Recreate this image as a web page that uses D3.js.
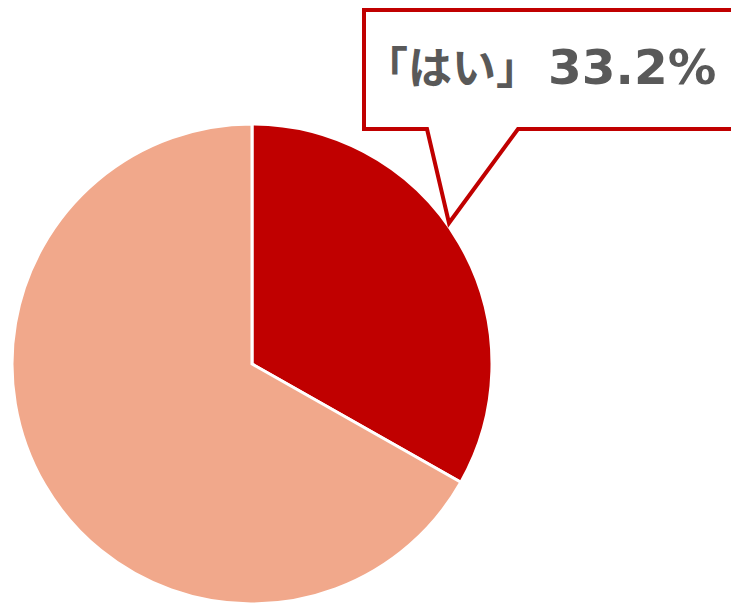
<!DOCTYPE html>
<html>
<head>
<meta charset="utf-8">
<script src="https://cdn.jsdelivr.net/npm/d3@7"></script>
<style>
  html, body { margin: 0; padding: 0; background: #fff; }
  svg { display: block; }
</style>
</head>
<body>
<svg id="chart" width="731" height="604"></svg>
<script>
const categories = ["はい", "いいえ"];
const values = [33.2, 66.8];
const colors = ["#C00000", "#F1A88B"];

(function () {
const svg = d3.select("#chart");
const cx = 252, cy = 364, radius = 240;

const data = categories.map((c, i) => ({ label: c, value: values[i] }));
const pie = d3.pie().sort(null).value(d => d.value);
const arc = d3.arc().innerRadius(0).outerRadius(radius);

const g = svg.append("g").attr("transform", `translate(${cx},${cy})`);
g.selectAll("path")
  .data(pie(data))
  .join("path")
  .attr("d", arc)
  .attr("fill", (d, i) => colors[i])
  .attr("stroke", "#fff")
  .attr("stroke-width", 3)
  .attr("stroke-linejoin", "miter");

// Callout box
const bLeft = 364, bTop = 10, bRight = 760, bBottom = 129;
const baseL = 427, baseR = 518, tipX = 449, tipY = 223;
const callout = d3.path();
callout.moveTo(bLeft, bTop);
callout.lineTo(bRight, bTop);
callout.lineTo(bRight, bBottom);
callout.lineTo(baseR, bBottom);
callout.lineTo(tipX, tipY);
callout.lineTo(baseL, bBottom);
callout.lineTo(bLeft, bBottom);
callout.closePath();
svg.append("path")
  .attr("d", callout.toString())
  .attr("fill", "#fff")
  .attr("stroke", "#C00000")
  .attr("stroke-width", 4)
  .attr("stroke-linejoin", "miter");

const txt = svg.append("text")
  .attr("y", 84)
  .attr("fill", "#595959")
  .attr("font-weight", "bold");
txt.append("tspan")
  .attr("x", 364)
  .attr("font-family", "'Noto Sans CJK JP', sans-serif")
  .attr("font-size", 44)
  .text(`「${data[0].label}」`);
txt.append("tspan")
  .attr("x", 548)
  .attr("font-family", "'DejaVu Sans', sans-serif")
  .attr("font-size", 48.5)
  .text(`${data[0].value}%`);
})();
</script>
</body>
</html>
